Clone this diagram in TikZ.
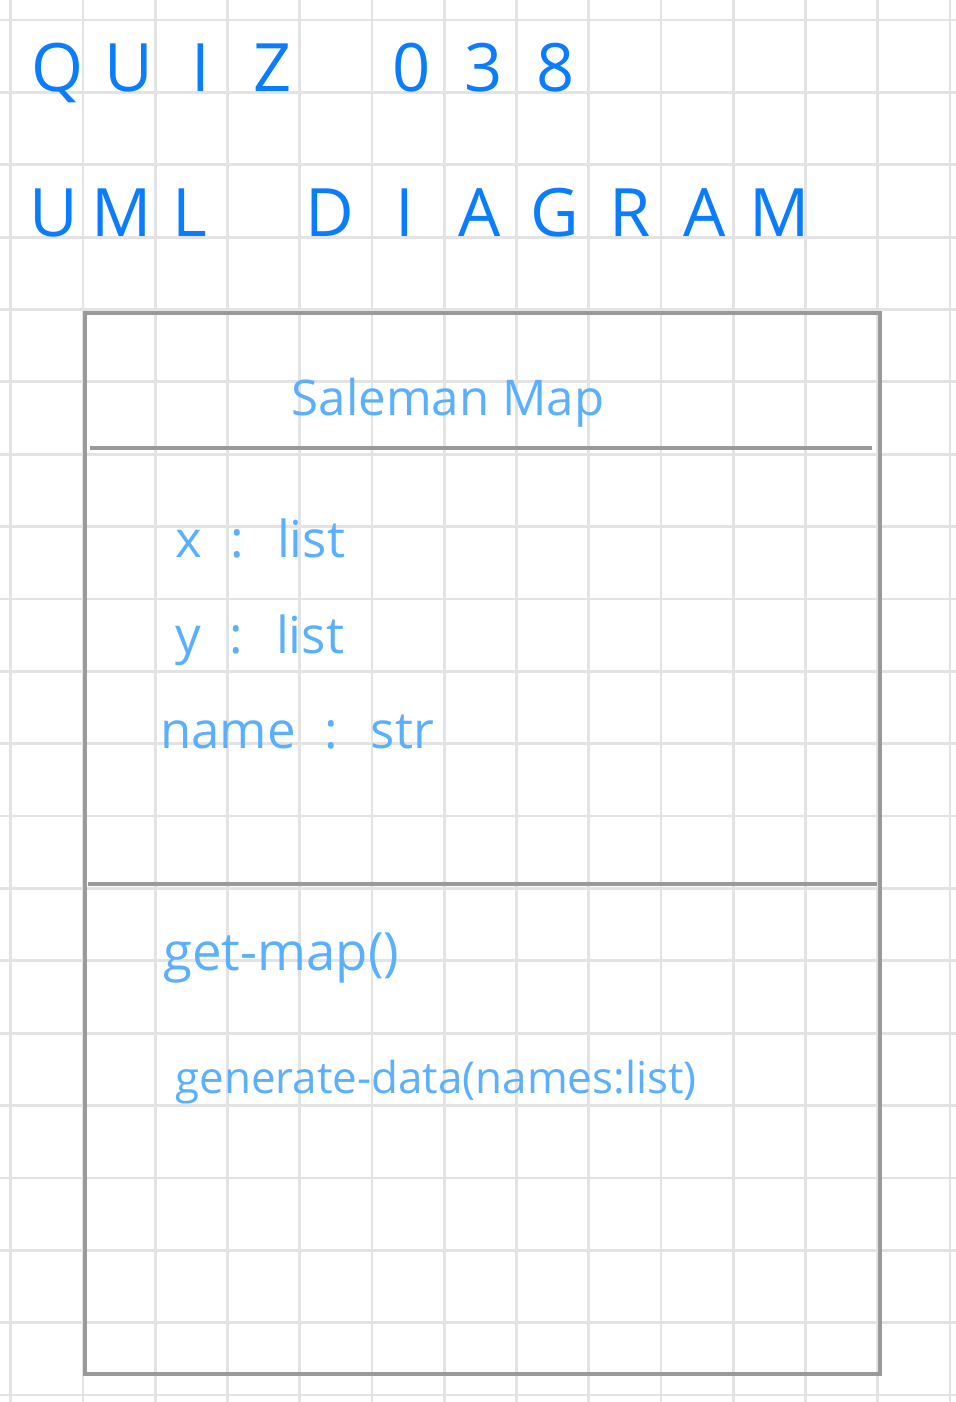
\documentclass[tikz,border=0pt]{standalone}
\usepackage{fontspec}
\setmainfont{Open Sans}
\usepackage{tikz}
\usepackage{xcolor}

\definecolor{inkblue}{HTML}{0A7CFF}
\definecolor{penblue}{HTML}{5AB0FF}
\definecolor{gridgray}{HTML}{E3E3E3}
\definecolor{boxgray}{HTML}{9A9A9A}

% one letter of the spaced-out headings
\newcommand{\lt}[2][1.44cm]{\makebox[#1]{#2}}
% wider handwritten word gap
\newcommand{\wide}{\hspace{0.3em}}

\begin{document}
\begin{tikzpicture}[x=0.02cm, y=-0.02cm,
  gridline/.style={gridgray, line width=1.6pt},
  heading/.style={inkblue, anchor=base, inner sep=0pt, font=\fontsize{38}{40}\selectfont},
  member/.style={penblue, anchor=base west, inner sep=0pt, font=\fontsize{30}{32}\selectfont},
  attribute/.style={member, font=\fontsize{29}{31}\selectfont},
  classbox/.style={draw=boxgray, line width=2pt, minimum width=15.9cm, minimum height=21.22cm, inner sep=0pt},
  divider/.style={boxgray, line width=2pt}]
% Paper
\fill[white] (0,0) rectangle (956,1402);
\useasboundingbox (0,0) rectangle (956,1402);

% Squared paper
\foreach \i in {0,...,13}
  \draw[gridline] ({10.7+72.25*\i},0) -- ({10.7+72.25*\i},1402);
\foreach \j in {0,...,19}
  \draw[gridline] (0,{20+72.37*\j}) -- (956,{20+72.37*\j});

% Headings
\node[heading] (quiz) at (165,92) {\lt{Q}\lt{U}\lt{I}\lt{Z}};
\node[heading] (num) at (484,92) {\lt{0}\lt{3}\lt{8}};
\node[heading] (uml) at (122,236) {\lt[1.36cm]{U}\lt[1.36cm]{M}\lt[1.36cm]{L}};
\node[heading] (diagram) at (555,236) {\lt[1.5cm]{D}\lt[1.5cm]{I}\lt[1.5cm]{A}\lt[1.5cm]{G}\lt[1.5cm]{R}\lt[1.5cm]{A}\lt[1.5cm]{M}};

% Class box
\node[classbox] (cls) at (482.5,843.5) {};
\coordinate (headL) at (90,448);
\coordinate (headR) at (872,448);
\coordinate (attrL) at (88,884);
\coordinate (attrR) at (877,884);
\draw[divider] (headL) -- (headR);
\draw[divider] (attrL) -- (attrR);

% Class name
\node[member, anchor=base, font=\fontsize{28}{30}\selectfont] (clsname) at (448,415) {Saleman Map};

% Attributes
\node[attribute] (attrx) at (175,557) {x \wide: \wide list};
\node[attribute] (attry) at (175,653) {y \wide: \wide list};
\node[attribute] (attrname) at (160,748) {name \wide: \wide str};

% Methods
\node[member] (getmap) at (163,970) {get-map()};
\node[member, font=\fontsize{25}{27}\selectfont] (gendata) at (175,1093) {generate-data(names:list)};
\end{tikzpicture}
\end{document}
